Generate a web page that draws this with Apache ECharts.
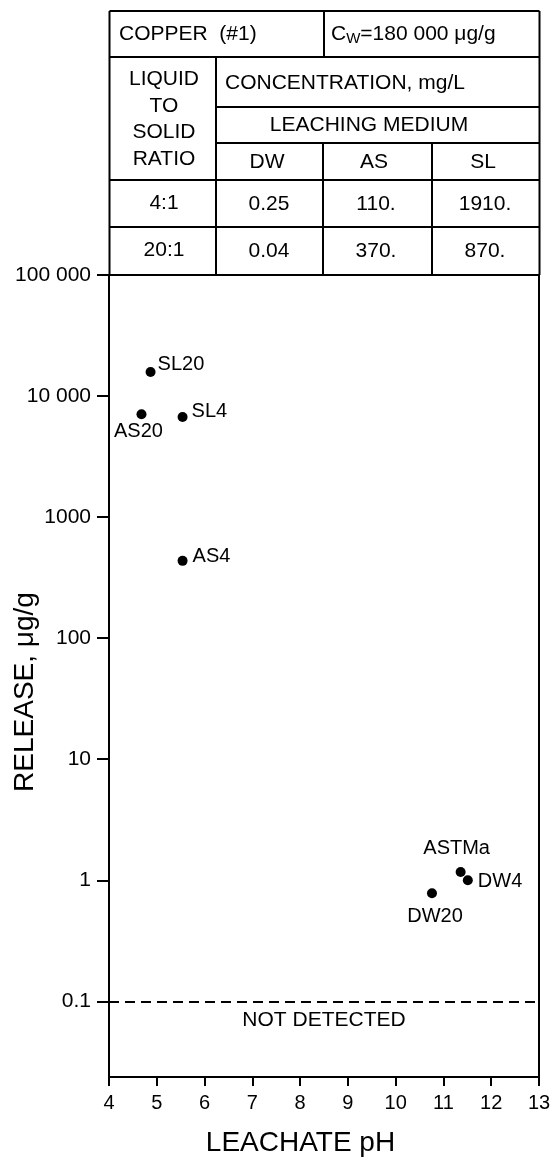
<!DOCTYPE html>
<html>
<head>
<meta charset="utf-8">
<title>Copper release vs leachate pH</title>
<script src="https://cdn.jsdelivr.net/npm/echarts@6/dist/echarts.min.js"></script>
<style>
    html, body {margin: 0; padding: 0; background: #fff;}
    #chart {width: 553px; height: 1161px;}
</style>
</head>
<body>
<div id="chart"></div>
<script>
	// scatter points
	var pointNames = ['SL20', 'AS20', 'SL4', 'AS4', 'ASTMa', 'DW4', 'DW20'];
	var pointPH = [4.87, 4.68, 5.54, 5.54, 11.36, 11.51, 10.76];
	var pointRelease = [15800, 7080, 6720, 435, 1.17, 1.0, 0.78];

	// axes
	var yTicks = [0.1, 1, 10, 100, 1000, 10000, 100000];
	var yTickLabels = ['0.1', '1', '10', '100', '1000', '10 000', '100 000'];
	var notDetected = 0.1;

	// table on top
	var metalName = 'COPPER  (#1)';
	var cwText = '=180 000 μg/g';
	var ratios = ['4:1', '20:1'];
	var media = ['DW', 'AS', 'SL'];
	var conc4 = ['0.25', '110.', '1910.'];
	var conc20 = ['0.04', '370.', '870.'];

	var FONT = '"Liberation Sans", Arial, Helvetica, sans-serif';

	// label placement per point (layout only)
	var labelPos = {
		SL20: {position: 'right', distance: 2, offset: [0, -8]},
		AS20: {position: 'bottom', distance: 2, offset: [-3, 0]},
		SL4: {position: 'right', distance: 4, offset: [0, -5]},
		AS4: {position: 'right', distance: 5, offset: [0, -4]},
		ASTMa: {position: 'top', distance: 9, offset: [-4, 0]},
		DW4: {position: 'right', distance: 5, offset: [0, 1]},
		DW20: {position: 'bottom', distance: 8, offset: [3, 0]}
	};

	var points = [];
	for (var i = 0; i < pointNames.length; i++) {
		var lp = labelPos[pointNames[i]];
		points.push({
			name: pointNames[i],
			value: [pointPH[i], pointRelease[i]],
			label: {
				show: true, position: lp.position, distance: lp.distance, offset: lp.offset,
				color: '#000', fontSize: 20, fontFamily: FONT, textBorderWidth: 0
			}
		});
	}

	// table drawing
	var L = 109.5, R = 539.5, T = 11, B = 275;
	var c1 = 216, c2 = 323, c3 = 432;
	var colCenters = [269, 376, 485];
	function hline(y, x1, x2) {
		return {type: 'line', shape: {x1: x1, y1: y, x2: x2, y2: y}, style: {stroke: '#000', lineWidth: 2}};
	}
	function vline(x, y1, y2) {
		return {type: 'line', shape: {x1: x, y1: y1, x2: x, y2: y2}, style: {stroke: '#000', lineWidth: 2}};
	}
	function txt(s, x, y, align, size) {
		return {type: 'text', x: x, y: y, style: {
			text: s, fill: '#000', fontSize: size || 21, fontFamily: FONT,
			align: align || 'center', verticalAlign: 'middle'
		}};
	}
	var table = [
		hline(T, L, R), hline(57, L, R), hline(107, c1, R), hline(143, c1, R),
		hline(180, L, R), hline(227, L, R),
		vline(L, T, B), vline(R, T, B), vline(324, T, 57),
		vline(c1, 57, B), vline(c2, 143, B), vline(c3, 143, B),
		txt(metalName, 119, 34, 'left'),
		{type: 'text', x: 331, y: 34, style: {
			text: '{c|C}{s|W}{c|' + cwText + '}', fontFamily: FONT, fill: '#000',
			align: 'left', verticalAlign: 'middle',
			rich: {
				c: {fontSize: 21, fontFamily: FONT, fill: '#000'},
				s: {fontSize: 15, fontFamily: FONT, fill: '#000', padding: [10, 0, 0, 0]}
			}
		}},
		{type: 'text', x: 164, y: 119, style: {
			text: 'LIQUID\nTO\nSOLID\nRATIO', fill: '#000', fontSize: 21, fontFamily: FONT,
			align: 'center', verticalAlign: 'middle', lineHeight: 26.5
		}},
		txt('CONCENTRATION, mg/L', 225, 83, 'left'),
		txt('LEACHING MEDIUM', 369, 125)
	];
	for (var j = 0; j < media.length; j++) {
		table.push(txt(media[j], colCenters[j] - 2, 162));
		table.push(txt(conc4[j], colCenters[j], 204));
		table.push(txt(conc20[j], colCenters[j], 251));
	}
	table.push(txt(ratios[0], 164, 203));
	table.push(txt(ratios[1], 164, 250));

	var chart = echarts.init(document.getElementById('chart'));
	var option = {
		backgroundColor: '#fff',
		animation: false,
		textStyle: {fontFamily: FONT, color: '#000'},
		grid: {
			left: 109, right: 14, top: 275, bottom: 84, outerBoundsMode: 'none', containLabel: false,
			show: true, borderColor: '#000', borderWidth: 2
		},
		xAxis: {
			type: 'value', min: 4, max: 13, interval: 1,
			name: 'LEACHATE pH', nameLocation: 'middle', nameGap: 52, nameMoveOverlap: false,
			nameTextStyle: {fontSize: 28, fontFamily: FONT, color: '#000', padding: [0, 47, 0, 0]},
			axisLine: {show: true, lineStyle: {color: '#000', width: 2}},
			axisTick: {show: true, inside: false, length: 9, lineStyle: {color: '#000', width: 2}},
			axisLabel: {fontSize: 20, fontFamily: FONT, color: '#000', margin: 16},
			splitLine: {show: false}
		},
		yAxis: {
			type: 'log', logBase: 10, min: 0.0237, max: 100000,
			name: 'RELEASE, μg/g', nameLocation: 'middle', nameGap: 70, nameMoveOverlap: false,
			nameTextStyle: {fontSize: 28, fontFamily: FONT, color: '#000', padding: [0, 32, 0, 0]},
			axisLine: {show: true, lineStyle: {color: '#000', width: 2}},
			axisTick: {show: true, inside: false, length: 12, customValues: yTicks, lineStyle: {color: '#000', width: 2}},
			axisLabel: {
				fontSize: 21, fontFamily: FONT, color: '#000', margin: 18, customValues: yTicks,
				formatter: function (v) {
					for (var k = 0; k < yTicks.length; k++) {
						if (Math.abs(Math.log10(v) - Math.log10(yTicks[k])) < 1e-6) return yTickLabels[k];
					}
					return '';
				}
			},
			splitLine: {show: false}
		},
		graphic: table,
		series: [{
			type: 'scatter',
			symbol: 'circle',
			symbolSize: 10,
			itemStyle: {color: '#000', opacity: 1},
			label: {fontSize: 20, fontFamily: FONT, color: '#000', formatter: '{b}'},
			data: points,
			markLine: {
				silent: true,
				symbol: ['none', 'none'],
				lineStyle: {color: '#000', width: 2, type: [10, 6]},
				label: {
					show: true, position: 'insideMiddleBottom', distance: 8,
					formatter: 'NOT DETECTED', fontSize: 21, fontFamily: FONT, color: '#000'
				},
				data: [{yAxis: notDetected}]
			}
		}]
	};
	chart.setOption(option);
</script>
</body>
</html>
